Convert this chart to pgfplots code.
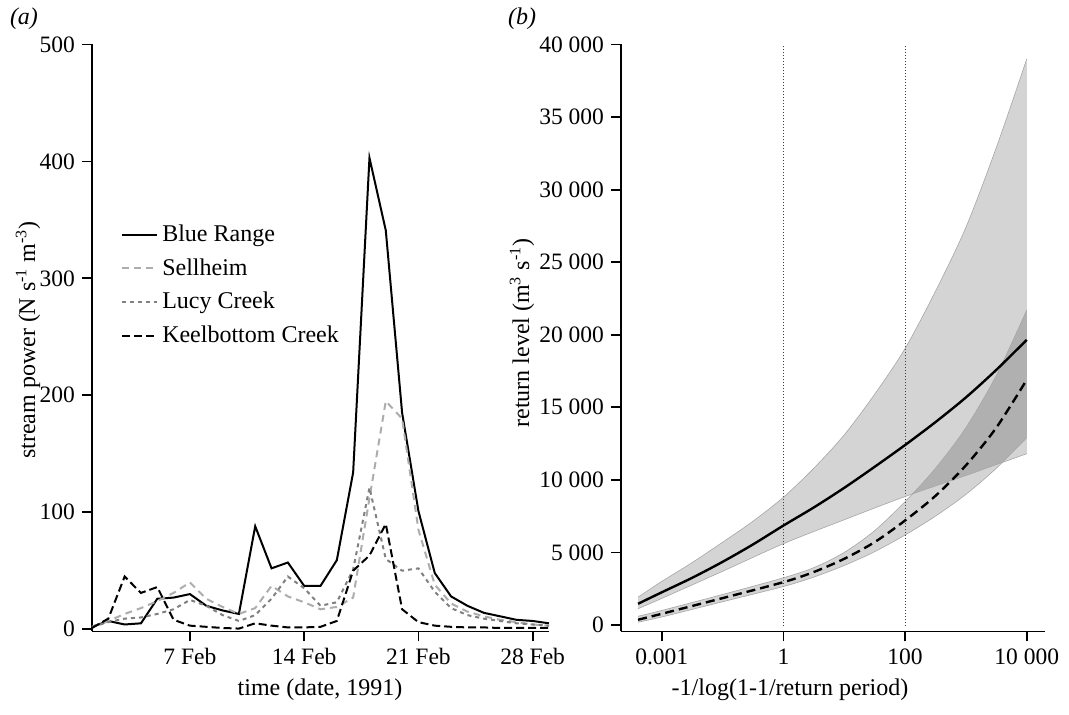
\documentclass[border=0pt]{standalone}
\usepackage{fontspec}
\setmainfont{Liberation Serif}
\usepackage{pgfplots}
\pgfplotsset{compat=1.18}
\usepgfplotslibrary{fillbetween}

\begin{document}
\begin{tikzpicture}[font=\fontsize{12}{13.5}\selectfont]
\pgfplotsset{
  rstyle/.style={
    scale only axis,
    axis x line*=bottom, axis y line*=left,
    axis line style={-, line width=0.9pt},
    tick style={line width=0.9pt, black},
    tick align=outside,
    major tick length=5pt,
    clip=false,
    scaled x ticks=false, scaled y ticks=false,
    ticklabel style={font=\fontsize{11.75}{13}\selectfont},
  }
}
% ---------------- panel (a) ----------------
\begin{axis}[rstyle,
  at={(46pt,41.75pt)}, anchor=south west,
  width=228.5pt, height=293.5pt,
  xmin=1, xmax=29, ymin=-2, ymax=500,
  xtick={7,14,21,28}, xticklabels={7 Feb,14 Feb,21 Feb,28 Feb},
  ytick={0,100,200,300,400,500}, yticklabels={0,100,200,300,400,500},
  legend style={at={(axis description cs:0.05,0.707)}, anchor=north west,
    draw=none, fill=none, row sep=3pt, font=\fontsize{12}{13.5}\selectfont},
  legend cell align=left,
  legend image code/.code={\draw[#1] (0pt,0pt) -- (17.5pt,0pt);},
]
\addplot[black, line width=1pt] coordinates {
(1,2) (2,7) (3,4) (4,5) (5,26) (6,27) (7,30) (8,20) (9,16) (10,13)
(11,88) (12,52) (13,57) (14,37) (15,37) (16,59) (17,134) (18,403) (19,341) (20,185)
(21,101) (22,48) (23,28) (24,20) (25,14) (26,11) (27,8) (28,7) (29,5)};
\addlegendentry{Blue Range}
\addplot[black!32, line width=1pt, dash pattern=on 3.5pt off 2.5pt] coordinates {
(1,2) (2,7) (3,13) (4,18) (5,24) (6,31) (7,40) (8,26) (9,19) (10,13)
(11,18) (12,37) (13,28) (14,23) (15,17) (16,19) (17,27) (18,112) (19,195) (20,180)
(21,85) (22,38) (23,22) (24,15) (25,11) (26,8) (27,6) (28,4) (29,3)};
\addlegendentry{Sellheim}
\addplot[black!50, line width=1pt, dash pattern=on 2pt off 2pt] coordinates {
(1,2) (2,6) (3,9) (4,10) (5,13) (6,17) (7,25) (8,20) (9,12) (10,7)
(11,12) (12,26) (13,45) (14,35) (15,20) (16,23) (17,51) (18,121) (19,60) (20,50)
(21,52) (22,32) (23,18) (24,12) (25,9) (26,7) (27,5) (28,4) (29,3)};
\addlegendentry{Lucy Creek}
\addplot[black, line width=1pt, dash pattern=on 4pt off 2pt] coordinates {
(1,1) (2,9) (3,45) (4,31) (5,36) (6,8) (7,3) (8,2) (9,1) (10,0.5)
(11,5) (12,3) (13,1.5) (14,1.5) (15,2) (16,7) (17,50) (18,63) (19,90) (20,17)
(21,6) (22,3) (23,2) (24,1.5) (25,1.5) (26,1) (27,1) (28,1) (29,1)};
\addlegendentry{Keelbottom Creek}
\end{axis}
% ---------------- panel (b) ----------------
\begin{axis}[rstyle,
  at={(310.5pt,41.75pt)}, anchor=south west,
  width=212pt, height=293.5pt,
  xmin=-2.67, xmax=4.30, ymin=-450, ymax=40000,
  xtick={-2,0,2,4}, xticklabels={0.001,1,100,10~000},
  ytick={0,5000,10000,15000,20000,25000,30000,35000,40000},
  yticklabels={0,5~000,10~000,15~000,20~000,25~000,30~000,35~000,40~000},
]
\addplot[black!75, densely dotted, line width=0.5pt] coordinates {(0,-100) (0,40000)};
\addplot[black!75, densely dotted, line width=0.5pt] coordinates {(2,-100) (2,40000)};
% band of solid curve
\addplot[name path=su, smooth, draw=black!35, line width=0.3pt] coordinates {
(-2.39,1920) (-2,3000) (-1.5,4300) (-1,5700) (-0.5,7150) (0,8800) (0.5,10800) (1,13100)
(1.5,15900) (2,19050) (2.5,23000) (3,27400) (3.5,32900) (4,39000)};
\addplot[name path=sl, smooth, draw=black!35, line width=0.3pt] coordinates {
(-2.39,1120) (-2,1830) (-1,3700) (0,5600) (1,7250) (2,8850) (3,10300) (3.5,11050) (4,11800)};
\addplot[fill=black, fill opacity=0.17, draw=none] fill between[of=su and sl];
% band of dashed curve
\addplot[name path=du, smooth, draw=black!35, line width=0.3pt] coordinates {
(-2.39,600) (-2,1000) (-1,2100) (0,3250) (0.5,3950) (1,5000) (1.5,6500) (2,8500) (2.5,10800) (3,13600) (3.5,17200) (4,21700)};
\addplot[name path=dl, smooth, draw=black!35, line width=0.3pt] coordinates {
(-2.39,190) (-2,550) (-1,1600) (0,2650) (0.5,3300) (1,4100) (1.5,5050) (2,6200) (2.5,7500) (3,9000) (3.5,10800) (4,12900)};
\addplot[fill=black, fill opacity=0.17, draw=none] fill between[of=du and dl];
% curves
\addplot[black, line width=1.2pt, smooth] coordinates {
(-2.39,1460) (-2,2250) (-1.5,3250) (-1,4350) (-0.5,5550) (0,6850) (0.5,8100) (1,9450)
(1.5,10900) (2,12400) (2.5,13980) (3,15680) (3.5,17580) (4,19650)};
\addplot[black, line width=1.2pt, smooth, dash pattern=on 4.5pt off 2.5pt] coordinates {
(-2.39,360) (-2,770) (-1,1850) (0,2950) (0.5,3650) (1,4560) (1.5,5710) (2,7200) (2.5,8900) (3,11000) (3.5,13600) (4,16900)};
\end{axis}
% labels
\node[font=\fontsize{12}{13.5}\selectfont\itshape] at (12pt,348pt) {(a)};
\node[font=\fontsize{12}{13.5}\selectfont\itshape] at (261pt,348pt) {(b)};
\node[rotate=90] at (14pt,187.5pt) {stream power (N s\textsuperscript{-1} m\textsuperscript{-3})};
\node[rotate=90] at (261pt,191pt) {return level (m\textsuperscript{3} s\textsuperscript{-1})};
\node at (160pt,12.5pt) {time (date, 1991)};
\node at (395pt,12.5pt) {-1/log(1-1/return period)};
\pgfresetboundingbox
\path[use as bounding box] (0,0) rectangle (534.5pt,357.5pt);
\end{tikzpicture}
\end{document}
